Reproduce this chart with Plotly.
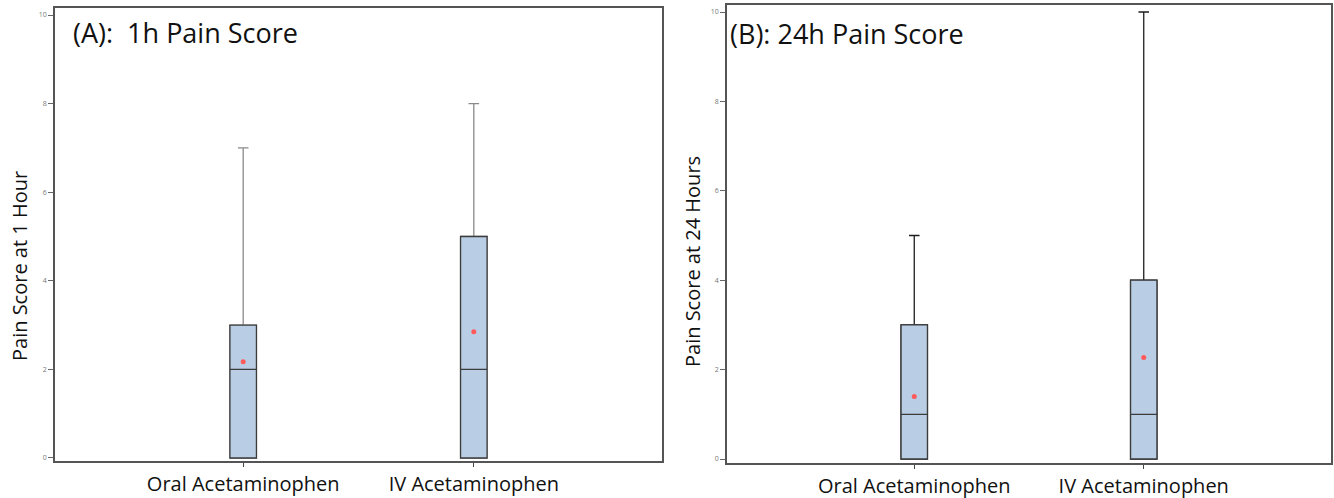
import plotly.graph_objects as go

categories = ["Oral Acetaminophen", "IV Acetaminophen"]

# Panel A: 1h pain score
a_q1 = [0, 0]
a_median = [2, 2]
a_q3 = [3, 5]
a_lower = [0, 0]
a_upper = [7, 8]
a_mean = [2.17, 2.85]

# Panel B: 24h pain score
b_q1 = [0, 0]
b_median = [1, 1]
b_q3 = [3, 4]
b_lower = [0, 0]
b_upper = [5, 10]
b_mean = [1.40, 2.27]

y_ticks = [0, 2, 4, 6, 8, 10]

FILL = "#b9cde5"
EDGE = "#3c3c3c"
FONT = "Open Sans"

W, H = 1334, 498


def px(x):
    return x / W


def py(y):
    return 1 - y / H


fig = go.Figure()


def add_panel(q1, med, q3, lo, up, mean, whisk_color, xa, ya):
    # whiskers (full box, whisker colour)
    fig.add_trace(go.Box(
        x=categories, q1=q1, median=med, q3=q3, lowerfence=lo, upperfence=up,
        fillcolor=FILL, line=dict(color=whisk_color, width=1.3),
        width=0.115, whiskerwidth=0.4, boxpoints=False, showlegend=False,
        xaxis=xa, yaxis=ya, hoverinfo="skip"))
    # box body outline
    fig.add_trace(go.Box(
        x=categories, q1=q1, median=med, q3=q3, lowerfence=q1, upperfence=q3,
        fillcolor=FILL, line=dict(color=EDGE, width=1.3),
        width=0.115, whiskerwidth=0, boxpoints=False, showlegend=False,
        xaxis=xa, yaxis=ya, hoverinfo="skip"))
    fig.add_trace(go.Scatter(
        x=categories, y=mean, mode="markers",
        marker=dict(color="#ff5a5a", size=5, line=dict(width=0)),
        showlegend=False, xaxis=xa, yaxis=ya, hoverinfo="skip"))


add_panel(a_q1, a_median, a_q3, a_lower, a_upper, a_mean, "#8a8a8a", "x", "y")
add_panel(b_q1, b_median, b_q3, b_lower, b_upper, b_mean, "#1e1e1e", "x2", "y2")

xcommon = dict(type="category", range=[-0.816, 1.816], showline=True, mirror=True,
               linecolor="#555555", linewidth=1.5, ticks="outside", ticklen=4,
               tickcolor="#444444", showgrid=False, zeroline=False, automargin=False,
               tickfont=dict(family=FONT, size=20, color="#111111"))
ycommon = dict(showline=True, mirror=True, linecolor="#555555", linewidth=1.5,
               ticks="outside", ticklen=5, tickcolor="#666666", showgrid=False,
               zeroline=False, tickvals=y_ticks, automargin=False,
               tickfont=dict(family=FONT, size=7, color="#777777"))

fig.update_layout(
    width=W, height=H,
    margin=dict(l=0, r=0, t=0, b=0, autoexpand=False),
    paper_bgcolor="white", plot_bgcolor="white",
    boxmode="overlay",
    xaxis=dict(xcommon, domain=[px(55), px(662)], anchor="y"),
    yaxis=dict(ycommon, domain=[py(461), py(8)], range=[-0.068, 10.158], anchor="x"),
    xaxis2=dict(xcommon, domain=[px(727), px(1331)], anchor="y2"),
    yaxis2=dict(ycommon, domain=[py(463), py(5)], range=[-0.089, 10.157], anchor="x2"),
    annotations=[
        dict(text="(A):  1h Pain Score", x=px(71), y=py(32), xref="paper", yref="paper",
             xanchor="left", yanchor="middle", showarrow=False,
             font=dict(family=FONT, size=27, color="#111111")),
        dict(text="(B): 24h Pain Score", x=px(728), y=py(34), xref="paper", yref="paper",
             xanchor="left", yanchor="middle", showarrow=False,
             font=dict(family=FONT, size=27, color="#111111")),
        dict(text="Pain Score at 1 Hour", x=px(19), y=py(266), xref="paper", yref="paper",
             xanchor="center", yanchor="middle", textangle=-90, showarrow=False,
             font=dict(family=FONT, size=20, color="#111111")),
        dict(text="Pain Score at 24 Hours", x=px(692), y=py(262), xref="paper", yref="paper",
             xanchor="center", yanchor="middle", textangle=-90, showarrow=False,
             font=dict(family=FONT, size=20, color="#111111")),
    ],
)

fig.write_html("out.html", config={"displayModeBar": False},
               post_script="document.body.style.margin='0';document.body.style.overflow='hidden';")
